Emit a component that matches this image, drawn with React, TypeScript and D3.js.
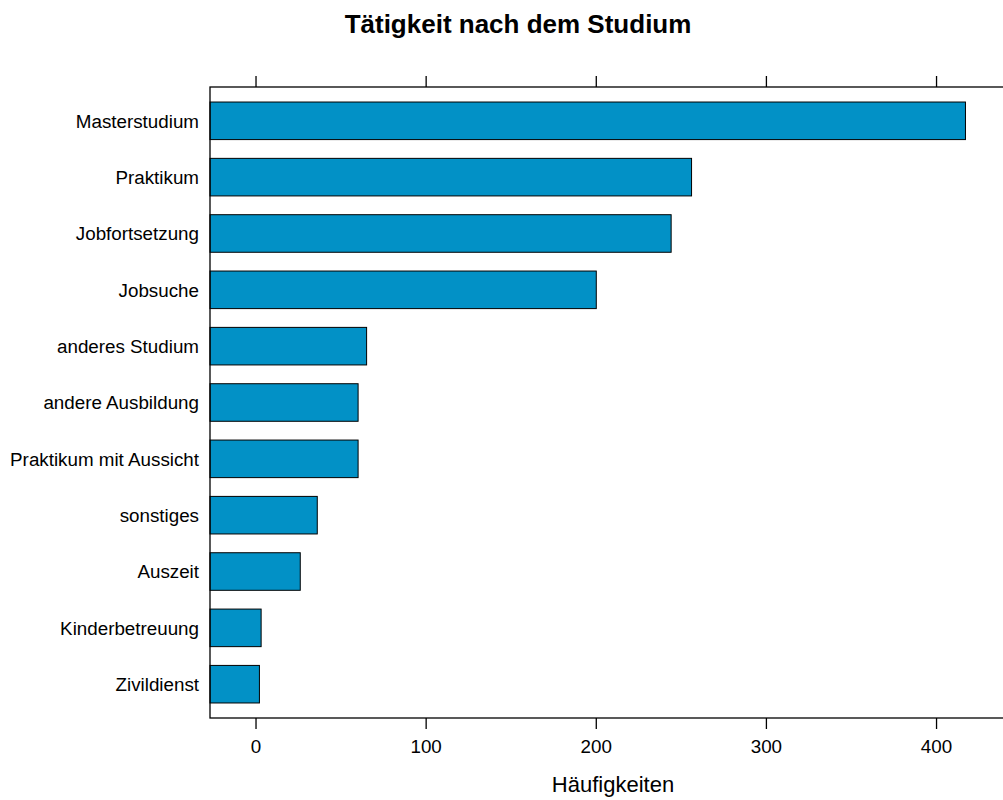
import React from "react";
import * as d3 from "d3";

const categories = [
  "Masterstudium",
  "Praktikum",
  "Jobfortsetzung",
  "Jobsuche",
  "anderes Studium",
  "andere Ausbildung",
  "Praktikum mit Aussicht",
  "sonstiges",
  "Auszeit",
  "Kinderbetreuung",
  "Zivildienst",
];
const counts = [417, 256, 244, 200, 65, 60, 60, 36, 26, 3, 2];
const tickValues = [0, 100, 200, 300, 400];
const title = "Tätigkeit nach dem Studium";
const xLabel = "Häufigkeiten";

const W = 1003;
const H = 800;
const FONT = "Liberation Sans, Arial, sans-serif";

export default function App() {
  const panelTop = 87;
  const panelBottom = 718;
  const panelLeft = 210;

  const minV = d3.min(counts)!;
  const maxV = d3.max(counts)!;
  const ext = (maxV - minV) * 0.07;
  const domain: [number, number] = [minV - ext, maxV + ext];
  const ppu = 1.7013;
  const panelRight = panelLeft + (domain[1] - domain[0]) * ppu;
  const x = d3.scaleLinear().domain(domain).range([panelLeft, panelRight]);

  const n = categories.length;
  const y = d3
    .scaleLinear()
    .domain([0.4, n + 0.6])
    .range([panelBottom, panelTop]);
  const unit = (panelBottom - panelTop) / (n + 0.2);
  const barH = unit * (2 / 3);

  return (
    <svg
      width={W}
      height={H}
      style={{ position: "absolute", left: 0, top: 0, background: "#fff" }}
      fontFamily={FONT}
    >
      <text x={518} y={33} textAnchor="middle" fontSize={26} fontWeight="bold" fill="#000">
        {title}
      </text>

      {categories.map((c, i) => {
        const pos = n - i;
        const cy = y(pos);
        return (
          <g key={c}>
            <rect
              x={x(domain[0])}
              y={cy - barH / 2}
              width={x(counts[i]) - x(domain[0])}
              height={barH}
              fill="#0291C6"
              stroke="#000"
              strokeWidth={1}
            />
            <text x={199} y={cy + 6.7} textAnchor="end" fontSize={18.8} fill="#000">
              {c}
            </text>
          </g>
        );
      })}

      <rect
        x={panelLeft}
        y={panelTop}
        width={panelRight - panelLeft}
        height={panelBottom - panelTop}
        fill="none"
        stroke="#000"
        strokeWidth={1.3}
      />

      {tickValues.map((t) => (
        <g key={t}>
          <line x1={x(t)} x2={x(t)} y1={panelTop} y2={panelTop - 11} stroke="#000" strokeWidth={1.3} />
          <line x1={x(t)} x2={x(t)} y1={panelBottom} y2={panelBottom + 11} stroke="#000" strokeWidth={1.3} />
          <text x={x(t)} y={753} textAnchor="middle" fontSize={18.8} fill="#000">
            {t}
          </text>
        </g>
      ))}

      <text x={613} y={792} textAnchor="middle" fontSize={22} fill="#000">
        {xLabel}
      </text>
    </svg>
  );
}
